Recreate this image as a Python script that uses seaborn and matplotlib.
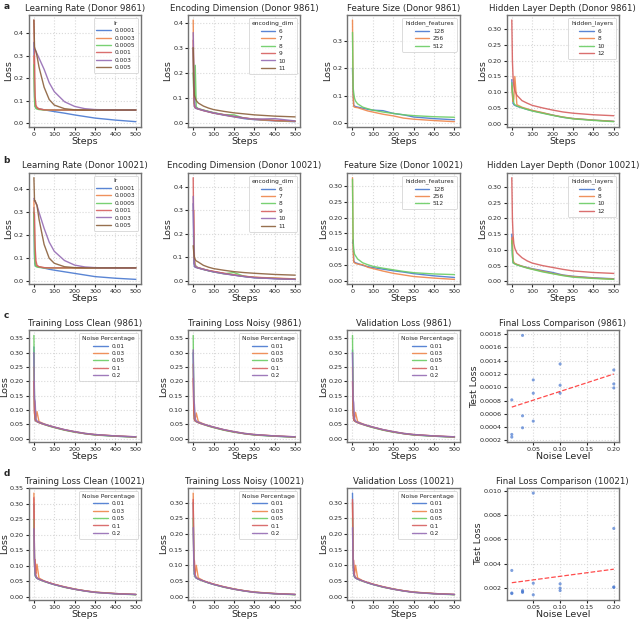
import numpy as np
import pandas as pd
import seaborn as sns
import matplotlib.pyplot as plt
from matplotlib.ticker import MultipleLocator

STEPS = [0, 3, 6, 10, 15, 25, 50, 75, 100, 150, 200, 250, 300, 400, 500]

# ---- row a: donor 9861 ----
LR_9861 = {
    "0.0001": [0.36, 0.12, 0.075, 0.068, 0.066, 0.064, 0.059, 0.055, 0.051, 0.044, 0.036, 0.029, 0.022, 0.013, 0.006],
    "0.0003": [0.30, 0.15, 0.080, 0.072, 0.068, 0.063, 0.059, 0.058, 0.058, 0.058, 0.058, 0.058, 0.058, 0.058, 0.058],
    "0.0005": [0.26, 0.10, 0.072, 0.065, 0.062, 0.060, 0.058, 0.058, 0.058, 0.058, 0.058, 0.058, 0.058, 0.058, 0.058],
    "0.001": [0.46, 0.30, 0.120, 0.080, 0.070, 0.062, 0.059, 0.058, 0.058, 0.058, 0.058, 0.058, 0.058, 0.058, 0.058],
    "0.003": [0.33, 0.33, 0.325, 0.320, 0.310, 0.290, 0.240, 0.180, 0.140, 0.095, 0.074, 0.064, 0.060, 0.058, 0.058],
    "0.005": [0.46, 0.34, 0.330, 0.320, 0.300, 0.250, 0.160, 0.105, 0.080, 0.064, 0.059, 0.058, 0.058, 0.058, 0.058],
}
ENC_9861 = {
    "6": [0.30, 0.09, 0.065, 0.060, 0.058, 0.056, 0.050, 0.045, 0.040, 0.032, 0.025, 0.018, 0.014, 0.009, 0.006],
    "7": [0.41, 0.12, 0.070, 0.062, 0.060, 0.057, 0.052, 0.046, 0.041, 0.033, 0.026, 0.020, 0.015, 0.010, 0.007],
    "8": [0.20, 0.12, 0.080, 0.230, 0.065, 0.058, 0.052, 0.047, 0.042, 0.034, 0.033, 0.020, 0.016, 0.011, 0.007],
    "9": [0.33, 0.10, 0.070, 0.062, 0.060, 0.056, 0.050, 0.045, 0.040, 0.034, 0.027, 0.021, 0.016, 0.011, 0.008],
    "10": [0.36, 0.20, 0.090, 0.065, 0.060, 0.057, 0.051, 0.046, 0.041, 0.033, 0.027, 0.020, 0.016, 0.018, 0.009],
    "11": [0.30, 0.15, 0.110, 0.100, 0.090, 0.080, 0.068, 0.060, 0.054, 0.047, 0.041, 0.037, 0.033, 0.028, 0.025],
}
FEAT_9861 = {
    "128": [0.20, 0.11, 0.065, 0.062, 0.060, 0.058, 0.054, 0.050, 0.047, 0.045, 0.035, 0.030, 0.022, 0.016, 0.012],
    "256": [0.375, 0.10, 0.060, 0.058, 0.057, 0.056, 0.050, 0.044, 0.040, 0.032, 0.026, 0.018, 0.014, 0.009, 0.005],
    "512": [0.33, 0.13, 0.110, 0.090, 0.080, 0.070, 0.058, 0.052, 0.047, 0.040, 0.035, 0.030, 0.027, 0.023, 0.021],
}
DEPTH_9861 = {
    "6": [0.14, 0.10, 0.065, 0.060, 0.058, 0.055, 0.050, 0.045, 0.041, 0.034, 0.027, 0.020, 0.016, 0.011, 0.007],
    "8": [0.12, 0.09, 0.070, 0.080, 0.150, 0.060, 0.052, 0.047, 0.042, 0.035, 0.027, 0.021, 0.016, 0.011, 0.007],
    "10": [0.13, 0.10, 0.090, 0.065, 0.060, 0.056, 0.050, 0.045, 0.040, 0.033, 0.026, 0.020, 0.015, 0.010, 0.006],
    "12": [0.33, 0.20, 0.150, 0.120, 0.105, 0.090, 0.073, 0.065, 0.058, 0.050, 0.043, 0.037, 0.033, 0.028, 0.025],
}

# ---- row b: donor 10021 ----
LR_10021 = {
    "0.0001": [0.32, 0.10, 0.070, 0.066, 0.064, 0.062, 0.057, 0.052, 0.048, 0.041, 0.034, 0.027, 0.020, 0.013, 0.008],
    "0.0003": [0.35, 0.20, 0.090, 0.070, 0.065, 0.062, 0.059, 0.058, 0.058, 0.058, 0.058, 0.058, 0.058, 0.058, 0.058],
    "0.0005": [0.30, 0.12, 0.070, 0.064, 0.062, 0.060, 0.058, 0.058, 0.058, 0.058, 0.058, 0.058, 0.058, 0.058, 0.058],
    "0.001": [0.30, 0.29, 0.150, 0.090, 0.070, 0.063, 0.059, 0.058, 0.058, 0.058, 0.058, 0.058, 0.058, 0.058, 0.058],
    "0.003": [0.36, 0.35, 0.345, 0.340, 0.330, 0.300, 0.230, 0.170, 0.130, 0.090, 0.070, 0.062, 0.059, 0.058, 0.058],
    "0.005": [0.45, 0.35, 0.350, 0.340, 0.330, 0.270, 0.160, 0.100, 0.078, 0.063, 0.059, 0.058, 0.058, 0.058, 0.058],
}
ENC_10021 = {
    "6": [0.33, 0.08, 0.060, 0.058, 0.056, 0.054, 0.048, 0.043, 0.038, 0.031, 0.024, 0.018, 0.013, 0.009, 0.006],
    "7": [0.30, 0.30, 0.100, 0.070, 0.060, 0.056, 0.050, 0.044, 0.040, 0.032, 0.025, 0.020, 0.015, 0.012, 0.008],
    "8": [0.19, 0.19, 0.080, 0.065, 0.060, 0.055, 0.049, 0.043, 0.038, 0.030, 0.035, 0.019, 0.014, 0.010, 0.007],
    "9": [0.44, 0.15, 0.070, 0.060, 0.058, 0.055, 0.049, 0.044, 0.040, 0.032, 0.025, 0.019, 0.015, 0.010, 0.007],
    "10": [0.36, 0.18, 0.070, 0.062, 0.058, 0.055, 0.049, 0.043, 0.038, 0.030, 0.024, 0.018, 0.013, 0.009, 0.006],
    "11": [0.15, 0.12, 0.100, 0.090, 0.085, 0.080, 0.066, 0.058, 0.052, 0.045, 0.039, 0.035, 0.032, 0.027, 0.024],
}
FEAT_10021 = {
    "128": [0.12, 0.13, 0.065, 0.060, 0.058, 0.056, 0.050, 0.046, 0.043, 0.038, 0.033, 0.029, 0.024, 0.017, 0.012],
    "256": [0.325, 0.10, 0.060, 0.058, 0.056, 0.054, 0.052, 0.044, 0.040, 0.032, 0.025, 0.020, 0.015, 0.010, 0.006],
    "512": [0.32, 0.13, 0.100, 0.085, 0.080, 0.070, 0.058, 0.052, 0.047, 0.041, 0.036, 0.031, 0.027, 0.023, 0.021],
}
DEPTH_10021 = {
    "6": [0.15, 0.09, 0.060, 0.058, 0.056, 0.053, 0.048, 0.044, 0.040, 0.034, 0.028, 0.020, 0.016, 0.011, 0.008],
    "8": [0.12, 0.14, 0.070, 0.060, 0.057, 0.054, 0.048, 0.043, 0.039, 0.032, 0.025, 0.019, 0.015, 0.010, 0.007],
    "10": [0.13, 0.08, 0.060, 0.057, 0.055, 0.052, 0.047, 0.042, 0.038, 0.030, 0.024, 0.018, 0.013, 0.009, 0.006],
    "12": [0.33, 0.20, 0.150, 0.120, 0.105, 0.090, 0.075, 0.065, 0.058, 0.050, 0.044, 0.038, 0.033, 0.028, 0.025],
}

# ---- rows c/d: noise experiments ----
CLEAN_9861 = {
    "0.01": [0.32, 0.10, 0.065, 0.062, 0.060, 0.057, 0.051, 0.045, 0.040, 0.031, 0.024, 0.018, 0.014, 0.009, 0.006],
    "0.03": [0.25, 0.09, 0.070, 0.070, 0.095, 0.060, 0.052, 0.046, 0.041, 0.032, 0.025, 0.019, 0.015, 0.010, 0.006],
    "0.05": [0.36, 0.12, 0.070, 0.063, 0.060, 0.057, 0.050, 0.044, 0.039, 0.030, 0.023, 0.018, 0.013, 0.009, 0.006],
    "0.1": [0.20, 0.09, 0.065, 0.062, 0.060, 0.056, 0.050, 0.045, 0.040, 0.031, 0.024, 0.018, 0.014, 0.010, 0.007],
    "0.2": [0.30, 0.14, 0.130, 0.070, 0.062, 0.058, 0.051, 0.046, 0.041, 0.032, 0.025, 0.019, 0.015, 0.010, 0.007],
}
NOISY_9861 = {
    "0.01": [0.30, 0.11, 0.066, 0.062, 0.060, 0.057, 0.051, 0.045, 0.040, 0.031, 0.024, 0.018, 0.014, 0.009, 0.006],
    "0.03": [0.26, 0.09, 0.072, 0.070, 0.090, 0.060, 0.052, 0.046, 0.041, 0.032, 0.025, 0.019, 0.015, 0.010, 0.006],
    "0.05": [0.36, 0.12, 0.070, 0.063, 0.060, 0.057, 0.050, 0.044, 0.039, 0.030, 0.023, 0.018, 0.013, 0.009, 0.006],
    "0.1": [0.21, 0.09, 0.065, 0.062, 0.060, 0.056, 0.050, 0.045, 0.040, 0.031, 0.024, 0.018, 0.014, 0.010, 0.007],
    "0.2": [0.31, 0.14, 0.120, 0.070, 0.062, 0.058, 0.051, 0.046, 0.041, 0.032, 0.025, 0.019, 0.015, 0.010, 0.007],
}
VAL_9861 = {
    "0.01": [0.31, 0.10, 0.066, 0.062, 0.060, 0.057, 0.051, 0.045, 0.040, 0.031, 0.024, 0.018, 0.014, 0.009, 0.006],
    "0.03": [0.25, 0.09, 0.070, 0.071, 0.092, 0.060, 0.052, 0.046, 0.041, 0.032, 0.025, 0.019, 0.015, 0.010, 0.006],
    "0.05": [0.36, 0.12, 0.070, 0.063, 0.060, 0.057, 0.050, 0.044, 0.039, 0.030, 0.023, 0.018, 0.013, 0.009, 0.006],
    "0.1": [0.20, 0.09, 0.065, 0.062, 0.060, 0.056, 0.050, 0.045, 0.040, 0.031, 0.024, 0.018, 0.014, 0.010, 0.007],
    "0.2": [0.30, 0.14, 0.125, 0.070, 0.062, 0.058, 0.051, 0.046, 0.041, 0.032, 0.025, 0.019, 0.015, 0.010, 0.007],
}
CLEAN_10021 = {
    "0.01": [0.30, 0.12, 0.070, 0.062, 0.059, 0.056, 0.050, 0.044, 0.039, 0.031, 0.024, 0.019, 0.014, 0.010, 0.007],
    "0.03": [0.335, 0.10, 0.080, 0.075, 0.105, 0.060, 0.051, 0.045, 0.040, 0.032, 0.025, 0.019, 0.015, 0.010, 0.007],
    "0.05": [0.25, 0.11, 0.070, 0.063, 0.060, 0.056, 0.049, 0.044, 0.039, 0.030, 0.024, 0.018, 0.014, 0.009, 0.006],
    "0.1": [0.32, 0.12, 0.120, 0.070, 0.060, 0.057, 0.050, 0.045, 0.040, 0.031, 0.024, 0.019, 0.014, 0.010, 0.007],
    "0.2": [0.22, 0.10, 0.070, 0.065, 0.060, 0.056, 0.050, 0.044, 0.039, 0.031, 0.024, 0.018, 0.014, 0.009, 0.007],
}
NOISY_10021 = {
    "0.01": [0.30, 0.12, 0.070, 0.062, 0.059, 0.056, 0.050, 0.044, 0.039, 0.031, 0.024, 0.019, 0.014, 0.010, 0.007],
    "0.03": [0.33, 0.10, 0.080, 0.075, 0.100, 0.060, 0.051, 0.045, 0.040, 0.032, 0.025, 0.019, 0.015, 0.010, 0.007],
    "0.05": [0.25, 0.11, 0.070, 0.063, 0.060, 0.056, 0.049, 0.044, 0.039, 0.030, 0.024, 0.018, 0.014, 0.009, 0.006],
    "0.1": [0.31, 0.12, 0.115, 0.070, 0.060, 0.057, 0.050, 0.045, 0.040, 0.031, 0.024, 0.019, 0.014, 0.010, 0.007],
    "0.2": [0.22, 0.10, 0.070, 0.065, 0.060, 0.056, 0.050, 0.044, 0.039, 0.031, 0.024, 0.018, 0.014, 0.009, 0.007],
}
VAL_10021 = {
    "0.01": [0.33, 0.12, 0.070, 0.062, 0.059, 0.056, 0.050, 0.044, 0.039, 0.031, 0.024, 0.019, 0.014, 0.010, 0.007],
    "0.03": [0.30, 0.10, 0.080, 0.075, 0.100, 0.060, 0.051, 0.045, 0.040, 0.032, 0.025, 0.019, 0.015, 0.010, 0.007],
    "0.05": [0.25, 0.11, 0.070, 0.063, 0.060, 0.056, 0.049, 0.044, 0.039, 0.030, 0.024, 0.018, 0.014, 0.009, 0.006],
    "0.1": [0.31, 0.12, 0.115, 0.070, 0.060, 0.057, 0.050, 0.045, 0.040, 0.031, 0.024, 0.019, 0.014, 0.010, 0.007],
    "0.2": [0.22, 0.10, 0.070, 0.065, 0.060, 0.056, 0.050, 0.044, 0.039, 0.031, 0.024, 0.018, 0.014, 0.009, 0.007],
}

# final test loss per run
NOISE_LEVEL = [0.01, 0.01, 0.01, 0.03, 0.03, 0.03, 0.05, 0.05, 0.05, 0.1, 0.1, 0.1, 0.2, 0.2, 0.2]
TEST_LOSS_9861 = [0.00081, 0.00029, 0.00025, 0.00178, 0.00057, 0.00039, 0.00111, 0.00091, 0.00049,
                  0.00135, 0.00103, 0.00091, 0.00126, 0.00105, 0.00099]
TEST_LOSS_10021 = [0.00345, 0.00160, 0.00155, 0.00180, 0.00170, 0.00165, 0.00980, 0.00240, 0.00145,
                   0.00235, 0.00200, 0.00180, 0.00690, 0.00210, 0.00205]

TITLE_FS = 6.2
LABEL_FS = 6.8


def line_panel(ax, curves, hue_name, title):
    frames = [pd.DataFrame({"step": STEPS, "loss": v, hue_name: k}) for k, v in curves.items()]
    df = pd.concat(frames, ignore_index=True)
    sns.lineplot(data=df, x="step", y="loss", hue=hue_name, hue_order=list(curves.keys()),
                 palette="muted", linewidth=1.0, alpha=0.9, ax=ax)
    ax.set_title(title, fontsize=TITLE_FS, pad=3)
    ax.set_xlabel("Steps", fontsize=LABEL_FS, labelpad=0)
    ax.set_ylabel("Loss", fontsize=LABEL_FS, labelpad=0.5)
    ax.set_xticks([0, 100, 200, 300, 400, 500])
    leg = ax.legend(title=hue_name, loc="upper right", fontsize=4.2, title_fontsize=4.3,
                    handlelength=2.5, handletextpad=0.6, borderpad=0.5, labelspacing=0.4,
                    frameon=True)
    leg.get_frame().set_linewidth(0.6)


def scatter_panel(ax, y, title, step):
    sns.scatterplot(x=NOISE_LEVEL, y=y, s=5, color="#4878d0", alpha=0.7, edgecolor="none", ax=ax)
    sns.regplot(x=NOISE_LEVEL, y=y, scatter=False, ci=None, ax=ax,
                line_kws=dict(color="red", linestyle="--", linewidth=0.9, alpha=0.7))
    ax.set_title(title, fontsize=TITLE_FS, pad=3)
    ax.set_xlabel("Noise Level", fontsize=LABEL_FS, labelpad=0)
    ax.set_ylabel("Test Loss", fontsize=LABEL_FS, labelpad=0.5)
    ax.set_xticks([0.05, 0.10, 0.15, 0.20])
    ax.yaxis.set_major_locator(MultipleLocator(step))


def main():
    sns.set_style("whitegrid", {"grid.linestyle": ":", "grid.color": ".85", "axes.edgecolor": ".45",
                                "xtick.bottom": True, "ytick.left": True})
    plt.rcParams.update({"xtick.labelsize": 4.6, "ytick.labelsize": 4.6,
                         "xtick.major.size": 2, "ytick.major.size": 2,
                         "xtick.major.pad": 1.5, "ytick.major.pad": 1.5,
                         "axes.linewidth": 1.0})

    fig, axes = plt.subplots(4, 4, figsize=(6.4, 6.21), dpi=100)
    fig.subplots_adjust(left=0.045, right=0.967, top=0.976, bottom=0.034, wspace=0.42, hspace=0.41)

    line_panel(axes[0, 0], LR_9861, "lr", "Learning Rate (Donor 9861)")
    line_panel(axes[0, 1], ENC_9861, "encoding_dim", "Encoding Dimension (Donor 9861)")
    line_panel(axes[0, 2], FEAT_9861, "hidden_features", "Feature Size (Donor 9861)")
    line_panel(axes[0, 3], DEPTH_9861, "hidden_layers", "Hidden Layer Depth (Donor 9861)")

    line_panel(axes[1, 0], LR_10021, "lr", "Learning Rate (Donor 10021)")
    line_panel(axes[1, 1], ENC_10021, "encoding_dim", "Encoding Dimension (Donor 10021)")
    line_panel(axes[1, 2], FEAT_10021, "hidden_features", "Feature Size (Donor 10021)")
    line_panel(axes[1, 3], DEPTH_10021, "hidden_layers", "Hidden Layer Depth (Donor 10021)")

    line_panel(axes[2, 0], CLEAN_9861, "Noise Percentage", "Training Loss Clean (9861)")
    line_panel(axes[2, 1], NOISY_9861, "Noise Percentage", "Training Loss Noisy (9861)")
    line_panel(axes[2, 2], VAL_9861, "Noise Percentage", "Validation Loss (9861)")
    scatter_panel(axes[2, 3], TEST_LOSS_9861, "Final Loss Comparison (9861)", 0.0002)

    line_panel(axes[3, 0], CLEAN_10021, "Noise Percentage", "Training Loss Clean (10021)")
    line_panel(axes[3, 1], NOISY_10021, "Noise Percentage", "Training Loss Noisy (10021)")
    line_panel(axes[3, 2], VAL_10021, "Noise Percentage", "Validation Loss (10021)")
    scatter_panel(axes[3, 3], TEST_LOSS_10021, "Final Loss Comparison (10021)", 0.002)

    for label, y in zip("abcd", [0.996, 0.749, 0.499, 0.245]):
        fig.text(0.005, y, label, fontsize=6.5, fontweight="bold", va="top")

    fig.savefig("out.png", dpi=100)


if __name__ == "__main__":
    main()
